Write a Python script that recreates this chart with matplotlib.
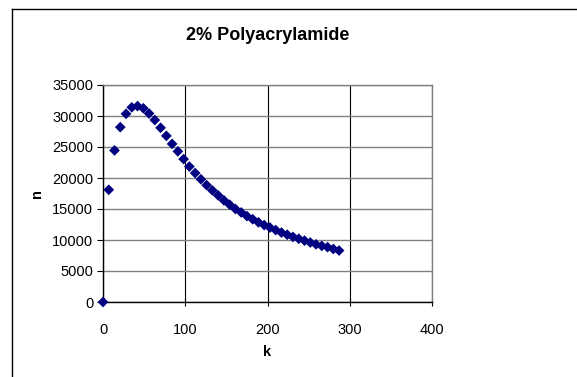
import matplotlib
matplotlib.use("Agg")
import matplotlib.pyplot as plt
from matplotlib.lines import Line2D

plt.rcParams["font.family"] = ["Liberation Sans", "DejaVu Sans"]

# data
k_vals = [0, 7, 14, 21, 28, 35, 42, 49, 56, 63, 70, 77, 84, 91, 98,
          105, 112, 119, 126, 133, 140, 147, 154, 161, 168, 175, 182,
          189, 196, 203, 210, 217, 224, 231, 238, 245, 252, 259, 266,
          273, 280, 287]
n_vals = [0, 18100, 24450, 28200, 30350, 31400, 31600, 31250, 30400,
          29350, 28100, 26800, 25500, 24300, 23050, 21850, 20800, 19800,
          18850, 18000, 17200, 16400, 15700, 15000, 14450, 13850, 13350,
          12850, 12400, 12000, 11600, 11200, 10850, 10500, 10200, 9900,
          9600, 9300, 9050, 8850, 8550, 8300]
x_ticks = [0, 100, 200, 300, 400]
y_ticks = [0, 5000, 10000, 15000, 20000, 25000, 30000, 35000]

W, H = 577, 377
fig = plt.figure(figsize=(W / 100, H / 100), dpi=100)
fig.patch.set_facecolor("white")

# axes box in pixels: left 103, right 432, top 85, bottom 302
l, r, t, b = 103, 432, 85, 302
ax = fig.add_axes([l / W, 1 - b / H, (r - l) / W, (b - t) / H])

ax.scatter(k_vals, n_vals, marker="D", s=30, color="#000080",
           edgecolors="none", zorder=3, clip_on=False)

ax.set_xlim(0, 400)
ax.set_ylim(0, 35000)
ax.set_xticks(x_ticks)
ax.set_yticks(y_ticks)

ax.yaxis.grid(True, color="#808080", lw=1)
ax.xaxis.grid(True, color="black", lw=0.8)
ax.set_axisbelow(True)

for side in ("top", "right"):
    ax.spines[side].set_color("#808080")
    ax.spines[side].set_linewidth(1)
for side in ("left", "bottom"):
    ax.spines[side].set_color("black")
    ax.spines[side].set_linewidth(1)

ax.tick_params(axis="y", direction="out", length=4, width=0.8,
               labelsize=10.5, pad=3)
ax.tick_params(axis="x", direction="inout", length=6, width=0.8,
               labelsize=10.5, pad=12)

ax.set_xlabel("k", fontsize=10.5, fontweight="bold", labelpad=6)
ax.set_ylabel("n", fontsize=10.5, fontweight="bold", labelpad=6)

fig.text(268 / W, 1 - 35 / H, "2% Polyacrylamide", ha="center",
         va="center", fontsize=13, fontweight="bold")

# chart-area frame (only top and left edges fall inside the image)
fig.add_artist(Line2D([12 / W, 1], [1 - 9 / H, 1 - 9 / H], color="black",
                      lw=1, transform=fig.transFigure))
fig.add_artist(Line2D([12 / W, 12 / W], [0, 1 - 9 / H], color="black",
                      lw=1, transform=fig.transFigure))

fig.savefig("out.png", dpi=100, facecolor="white")
